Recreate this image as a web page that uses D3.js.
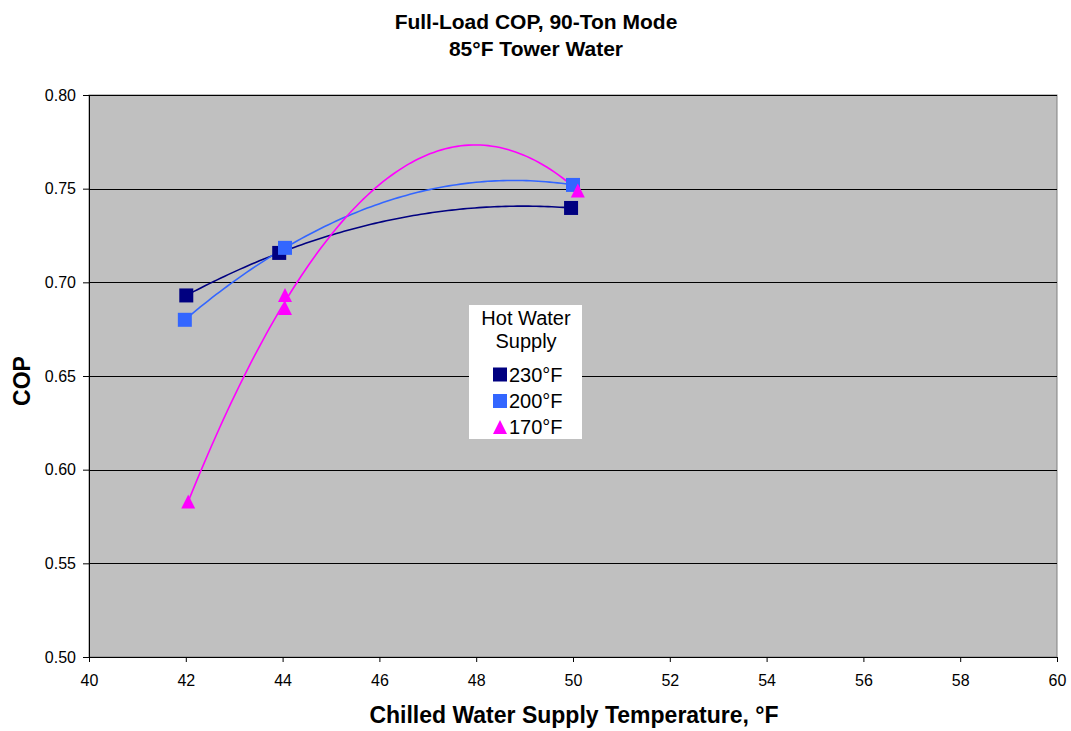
<!DOCTYPE html>
<html>
<head>
<meta charset="utf-8">
<script src="https://cdn.jsdelivr.net/npm/d3@7"></script>
<style>
  body { margin: 0; background: #fff; }
  svg { font-family: "Liberation Sans", Arial, sans-serif; }
</style>
</head>
<body>
<svg id="chart" width="1071" height="731"></svg>
<script>
// Chilled water supply temperature (°F) and measured COP for each hot water supply temperature
const seriesNames = ["230°F", "200°F", "170°F"];
const chwT230 = [42.01, 43.93, 49.96];
const cop230  = [0.693, 0.7157, 0.7397];
const chwT200 = [41.98, 44.05, 50.0];
const cop200  = [0.680, 0.7184, 0.752];
const chwT170 = [42.05, 44.05, 44.05, 50.1];
const cop170  = [0.583, 0.6932, 0.6863, 0.749];

const xTicks = [40, 42, 44, 46, 48, 50, 52, 54, 56, 58, 60];
const yTicks = [0.50, 0.55, 0.60, 0.65, 0.70, 0.75, 0.80];

const colors = ["#000080", "#3366FF", "#FF00FF"];
const shapes = ["square", "square", "triangle"];

const series = [
  { name: seriesNames[0], xs: chwT230, ys: cop230 },
  { name: seriesNames[1], xs: chwT200, ys: cop200 },
  { name: seriesNames[2], xs: chwT170, ys: cop170 }
];

const svg = d3.select("#chart");
const m = { left: 89, right: 1057, top: 95, bottom: 657 };

const x = d3.scaleLinear().domain([40, 60]).range([m.left, m.right]);
const y = d3.scaleLinear().domain([0.50, 0.80]).range([m.bottom, m.top]);

// Marker paths centred on their bounding box
function markerPath(shape, s) {
  const h = s / 2;
  if (shape === "square") return `M${-h},${-h}H${h}V${h}H${-h}Z`;
  return `M0,${-h}L${h},${h}L${-h},${h}Z`;
}

// Plot area
svg.append("rect")
  .attr("x", m.left).attr("y", m.top)
  .attr("width", m.right - m.left).attr("height", m.bottom - m.top)
  .attr("fill", "#C0C0C0").attr("stroke", "#808080").attr("stroke-width", 1);

// Horizontal gridlines
svg.append("g").selectAll("line")
  .data(yTicks.slice(1))
  .join("line")
  .attr("x1", m.left).attr("x2", m.right)
  .attr("y1", d => Math.round(y(d)) + 0.5).attr("y2", d => Math.round(y(d)) + 0.5)
  .attr("stroke", "#000").attr("stroke-width", 1);

// Axes
const xAxis = svg.append("g")
  .attr("transform", `translate(0,${m.bottom})`)
  .call(d3.axisBottom(x).tickValues(xTicks).tickFormat(d3.format("d")).tickSize(5).tickPadding(13));
const yAxis = svg.append("g")
  .attr("transform", `translate(${m.left},0)`)
  .call(d3.axisLeft(y).tickValues(yTicks).tickFormat(d3.format(".2f")).tickSize(6).tickPadding(7));
[xAxis, yAxis].forEach(g => {
  g.selectAll("text").attr("font-size", 16).attr("fill", "#000")
    .attr("font-family", "Liberation Sans, Arial, sans-serif");
  g.selectAll("line").attr("stroke", "#000");
  g.select(".domain").attr("stroke", "#000");
});

// Second-order polynomial least-squares trendline
function quadFit(xs, ys) {
  const s = [0, 0, 0, 0, 0], t = [0, 0, 0];
  xs.forEach((u, i) => {
    for (let k = 0; k < 5; k++) s[k] += Math.pow(u, k);
    for (let k = 0; k < 3; k++) t[k] += ys[i] * Math.pow(u, k);
  });
  const A = [[s[0], s[1], s[2], t[0]], [s[1], s[2], s[3], t[1]], [s[2], s[3], s[4], t[2]]];
  for (let i = 0; i < 3; i++) {
    let p = i;
    for (let r = i + 1; r < 3; r++) if (Math.abs(A[r][i]) > Math.abs(A[p][i])) p = r;
    [A[i], A[p]] = [A[p], A[i]];
    for (let r = 0; r < 3; r++) {
      if (r === i) continue;
      const f = A[r][i] / A[i][i];
      for (let c = i; c < 4; c++) A[r][c] -= f * A[i][c];
    }
  }
  const c = [A[0][3] / A[0][0], A[1][3] / A[1][1], A[2][3] / A[2][2]];
  return v => c[0] + c[1] * v + c[2] * v * v;
}

const line = d3.line().x(d => x(d[0])).y(d => y(d[1]));

series.forEach((s, i) => {
  const f = quadFit(s.xs, s.ys);
  const x0 = d3.min(s.xs), x1 = d3.max(s.xs);
  const pts = d3.range(0, 101).map(k => {
    const v = x0 + (x1 - x0) * k / 100;
    return [v, f(v)];
  });
  svg.append("path").datum(pts)
    .attr("d", line).attr("fill", "none")
    .attr("stroke", colors[i]).attr("stroke-width", 1.6);
});

// Markers
series.forEach((s, i) => {
  svg.append("g").selectAll("path")
    .data(s.xs.map((v, k) => [v, s.ys[k]]))
    .join("path")
    .attr("d", markerPath(shapes[i], 14))
    .attr("transform", d => `translate(${x(d[0])},${y(d[1])})`)
    .attr("fill", colors[i]);
});

// Legend
const lg = svg.append("g");
lg.append("rect").attr("x", 469).attr("y", 305).attr("width", 113).attr("height", 134)
  .attr("fill", "#fff");
lg.append("text").attr("x", 526).attr("y", 325).attr("text-anchor", "middle")
  .attr("font-size", 20).text("Hot Water");
lg.append("text").attr("x", 526).attr("y", 348).attr("text-anchor", "middle")
  .attr("font-size", 20).text("Supply");
const legendY = [374.5, 401, 427];
series.forEach((s, i) => {
  const cy = legendY[i];
  lg.append("path")
    .attr("d", markerPath(shapes[i], 14))
    .attr("transform", `translate(500,${cy})`)
    .attr("fill", colors[i]);
  lg.append("text").attr("x", 509).attr("y", cy + 7)
    .attr("font-size", 20).text(s.name);
});

// Titles
svg.append("text").attr("x", 536).attr("y", 29).attr("text-anchor", "middle")
  .attr("font-size", 21).attr("font-weight", "bold").text("Full-Load COP, 90-Ton Mode");
svg.append("text").attr("x", 536).attr("y", 56).attr("text-anchor", "middle")
  .attr("font-size", 21).attr("font-weight", "bold").text("85°F Tower Water");
svg.append("text").attr("x", 574).attr("y", 723).attr("text-anchor", "middle")
  .attr("font-size", 23).attr("font-weight", "bold").text("Chilled Water Supply Temperature, °F");
svg.append("text").attr("transform", "translate(30,381) rotate(-90)").attr("text-anchor", "middle")
  .attr("font-size", 23).attr("font-weight", "bold").text("COP");
</script>
</body>
</html>
